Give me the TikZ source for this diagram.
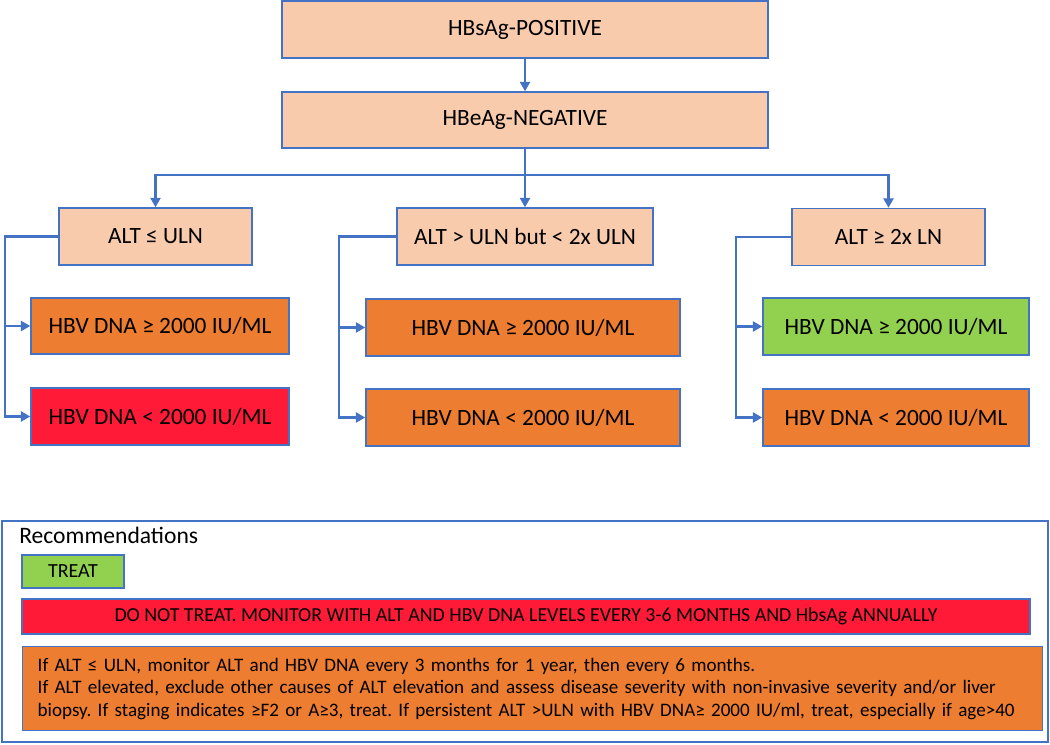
\documentclass[tikz,border=0pt]{standalone}
\usepackage{fontspec}
\setmainfont{Carlito}
\usetikzlibrary{positioning,arrows.meta}
\definecolor{peach}{HTML}{F8CBAD}
\definecolor{orng}{HTML}{ED7D31}
\definecolor{hred}{HTML}{FF1B38}
\definecolor{lgreen}{HTML}{92D050}
\definecolor{lblue}{HTML}{4472C4}
\frenchspacing
\tikzset{
  pxsize/.style 2 args={minimum width=#1*0.75pt, minimum height=#2*0.75pt},
  box/.style={draw=lblue, line width=1.1pt, inner sep=0pt, font=\fontsize{17.5}{20}\selectfont},
  peachbox/.style={box, fill=peach},
  orangebox/.style={box, fill=orng},
  redbox/.style={box, fill=hred},
  greenbox/.style={box, fill=lgreen},
  link/.style={draw=lblue, line width=1.6pt, -{Triangle[width=7.5pt,length=7pt]}},
}
\begin{document}
\begin{tikzpicture}[x=0.75pt, y=-0.75pt]
\useasboundingbox (0,0) rectangle (1050,745);
% top of the tree
\node[peachbox, pxsize={486}{57}] (pos) at (525,29.5) {HBsAg-POSITIVE};
\node[peachbox, pxsize={486}{56}] (neg) at (525,120) {HBeAg-NEGATIVE};
\draw[link] (pos) -- (neg);
% ALT levels
\node[peachbox, pxsize={193}{57}] (alt1) at (155.5,236.5) {ALT ≤ ULN};
\node[peachbox, pxsize={256}{57}] (alt2) at (525,236.5) {ALT > ULN but < 2x ULN};
\node[peachbox, pxsize={193}{57}] (alt3) at (888.5,237) {ALT ≥ 2x LN};
\coordinate (split) at (525,175);
\draw[link] (neg) -- (alt2);
\draw[link] (split) -| (alt1.north);
\draw[link] (split) -| (alt3.north);
% HBV DNA boxes
\node[orangebox, pxsize={258}{56}] (hi1) at (160,326) {HBV DNA ≥ 2000 IU/ML};
\node[redbox, pxsize={258}{57}] (lo1) at (160,416.5) {HBV DNA < 2000 IU/ML};
\node[orangebox, pxsize={314}{57}] (hi2) at (523,327.5) {HBV DNA ≥ 2000 IU/ML};
\node[orangebox, pxsize={314}{57}] (lo2) at (523,417.5) {HBV DNA < 2000 IU/ML};
\node[greenbox, pxsize={266}{57}] (hi3) at (896,326.5) {HBV DNA ≥ 2000 IU/ML};
\node[orangebox, pxsize={266}{57}] (lo3) at (896,417.5) {HBV DNA < 2000 IU/ML};
\coordinate (bus1) at (5,236.5);
\coordinate (bus2) at (339,236.5);
\coordinate (bus3) at (736,237);
\draw[link] (alt1.west) -- (bus1) |- (hi1.west);
\draw[link] (bus1) |- (lo1.west);
\draw[link] (alt2.west) -- (bus2) |- (hi2.west);
\draw[link] (bus2) |- (lo2.west);
\draw[link] (alt3.west) -- (bus3) |- (hi3.west);
\draw[link] (bus3) |- (lo3.west);
% recommendations
\node[draw=lblue, line width=1.1pt, pxsize={1046}{221}] (rec) at (525,631.5) {};
\node[anchor=base west, inner sep=0pt, font=\fontsize{17.7}{20}\selectfont] (rectitle) at (19,543) {Recommendations};
\node[greenbox, pxsize={102}{33}, font=\fontsize{15}{17}\selectfont] (treat) at (73,571.5) {TREAT};
\node[redbox, pxsize={1008}{35}, font=\fontsize{14.9}{17}\selectfont] (dont) at (526,616.5)
  {DO NOT TREAT. MONITOR WITH ALT AND HBV DNA LEVELS EVERY 3-6 MONTHS AND HbsAg ANNUALLY};
\node[orangebox, pxsize={1008}{84}, align=left, anchor=north west, text width=990*0.75pt,
  inner xsep=15*0.75pt, font=\fontsize{14.3}{17}\selectfont] (notes) at (22,646)
  {If ALT ≤ ULN, monitor ALT and HBV DNA every 3 months for 1 year, then every 6 months.\\
   If ALT elevated, exclude other causes of ALT elevation and assess disease severity with non-invasive severity and/or liver\\
   biopsy. If staging indicates ≥F2 or A≥3, treat. If persistent ALT >ULN with HBV DNA≥ 2000 IU/ml, treat, especially if age>40};
\end{tikzpicture}
\end{document}
